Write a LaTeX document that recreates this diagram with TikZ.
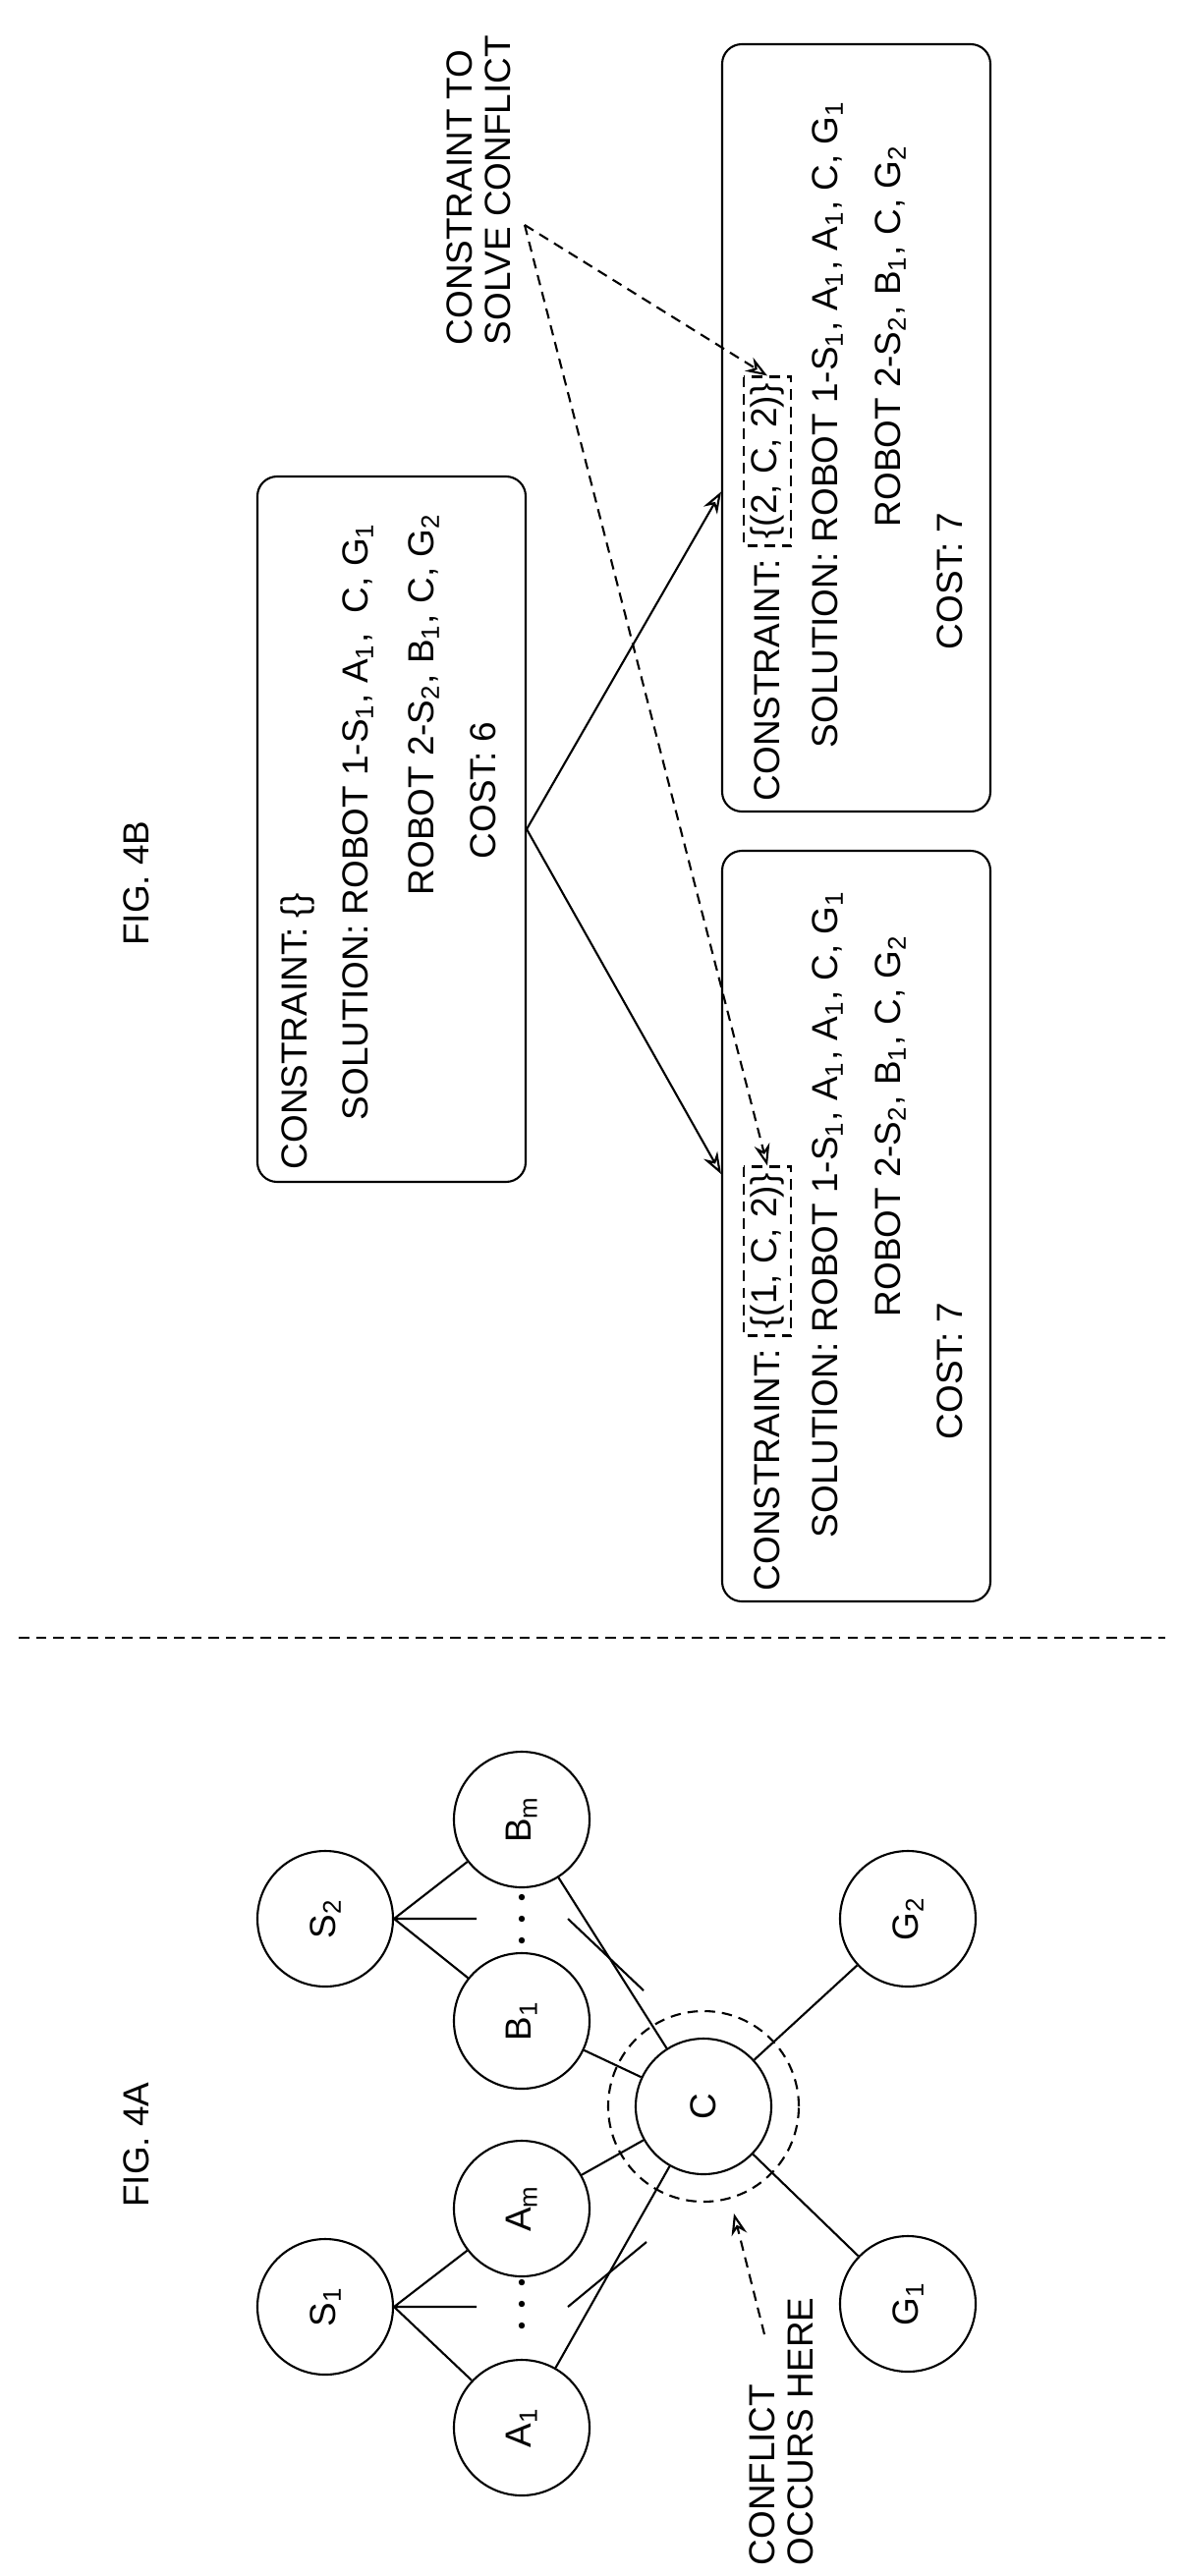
\documentclass[tikz,border=0pt]{standalone}
\usepackage{fontspec}
\setmainfont{Liberation Sans}
\usetikzlibrary{arrows.meta}
\begin{document}
\begin{tikzpicture}[x=0.1mm,y=-0.1mm,
  every node/.style={font=\fontsize{10.5}{11}\selectfont},
  txt/.style={rotate=90,anchor=west,inner sep=0pt},
  lbl/.style={rotate=90,anchor=north west,inner sep=0pt,align=left},
  circ/.style={circle,draw,line width=0.6pt,minimum size=13.8mm,inner sep=0pt},
  box/.style={draw,rounded corners=2mm,line width=0.6pt,minimum width=27.3mm},
  ln/.style={line width=0.6pt},
  dl/.style={line width=0.6pt,dash pattern=on 3pt off 2pt},
  arr/.style={line width=0.6pt,-{Stealth[length=2.2mm,width=1.6mm,open]}},
  darr/.style={dl,-{Stealth[length=2.2mm,width=1.6mm,open]}}]
\useasboundingbox (0,0) rectangle (1201,2622);
% divider
\coordinate (d1) at (19,1667); \coordinate (d2) at (1186,1667);
\draw[dl] (d1) -- (d2);
% FIG labels
\node[rotate=90,inner sep=0pt] (f4a) at (139,2183) {FIG. 4A};
\node[rotate=90,inner sep=0pt] (f4b) at (139,899) {FIG. 4B};
% FIG 4A nodes
\node[circ] (S1) at (331,2348) {\rotatebox{90}{S\textsubscript{1}}};
\node[circ] (S2) at (331,1953) {\rotatebox{90}{S\textsubscript{2}}};
\node[circ] (A1) at (531,2471) {\rotatebox{90}{A\textsubscript{1}}};
\node[circ] (Am) at (531,2248) {\rotatebox{90}{A\textsubscript{m}}};
\node[circ] (B1) at (531,2057) {\rotatebox{90}{B\textsubscript{1}}};
\node[circ] (Bm) at (531,1852) {\rotatebox{90}{B\textsubscript{m}}};
\node[circ] (C) at (716,2144) {\rotatebox{90}{C}};
\node[circ] (G1) at (924,2345) {\rotatebox{90}{G\textsubscript{1}}};
\node[circ] (G2) at (924,1953) {\rotatebox{90}{G\textsubscript{2}}};
\node[circle,draw,dl,minimum size=19.4mm,inner sep=0pt] (Cd) at (C) {};
% dots
\foreach \y in {2323,2345,2367} \fill (531,\y) circle (3.2);
\foreach \y in {1931,1953,1975} \fill (531,\y) circle (3.2);
% stubs
\coordinate (s1a) at (485,2348); \coordinate (s1b) at (578,2348); \coordinate (s1c) at (658,2282);
\coordinate (s2a) at (485,1953); \coordinate (s2b) at (578,1953); \coordinate (s2c) at (655,2026);
\draw[ln] (S1.east) -- (A1) (S1.east) -- (Am) (S1.east) -- (s1a) (s1b) -- (s1c);
\draw[ln] (S2.east) -- (B1) (S2.east) -- (Bm) (S2.east) -- (s2a) (s2b) -- (s2c);
\draw[ln] (A1) -- (C) (Am) -- (C) (B1) -- (C) (Bm) -- (C) (C) -- (G1) (C) -- (G2);
% conflict label
\node[lbl] (conf) at (762,2612) {CONFLICT\\OCCURS HERE};
\coordinate (cfs) at (778,2376); \coordinate (cfe) at (747,2253);
\draw[darr] (cfs) -- (cfe);
% FIG 4B boxes
\node[box,minimum height=71.8mm] (T) at (398.5,844) {};
\node[box,minimum height=78.1mm] (R2) at (871.5,435.5) {};
\node[box,minimum height=76.4mm] (R1) at (871.5,1248) {};
% top box text
\node[txt] (t1) at (303,1191) {CONSTRAINT: \{\}};
\node[txt] (t2) at (364,1141) {SOLUTION: ROBOT 1-S\textsubscript{1}, A\textsubscript{1}, \ C, G\textsubscript{1}};
\node[txt] (t3) at (431,912) {ROBOT 2-S\textsubscript{2}, B\textsubscript{1}, C, G\textsubscript{2}};
\node[txt] (t4) at (492,875) {COST: 6};
% R2 text
\node[txt] (r2a) at (781,816) {CONSTRAINT:};
\node[txt,draw,dl,inner sep=2pt] (k2) at ([yshift=1.2mm]r2a.east) {\{(2, C, 2)\}};
\node[txt] (r2b) at (842,762) {SOLUTION: ROBOT 1-S\textsubscript{1}, A\textsubscript{1}, A\textsubscript{1}, C, G\textsubscript{1}};
\node[txt] (r2c) at (906,537) {ROBOT 2-S\textsubscript{2}, B\textsubscript{1}, C, G\textsubscript{2}};
\node[txt] (r2d) at (967,662) {COST: 7};
% R1 text
\node[txt] (r1a) at (781,1620) {CONSTRAINT:};
\node[txt,draw,dl,inner sep=2pt] (k1) at ([yshift=1.2mm]r1a.east) {\{(1, C, 2)\}};
\node[txt] (r1b) at (842,1566) {SOLUTION: ROBOT 1-S\textsubscript{1}, A\textsubscript{1}, A\textsubscript{1}, C, G\textsubscript{1}};
\node[txt] (r1c) at (906,1341) {ROBOT 2-S\textsubscript{2}, B\textsubscript{1}, C, G\textsubscript{2}};
\node[txt] (r1d) at (967,1466) {COST: 7};
% solid arrows
\draw[arr] (T.east) -- ([yshift=-6.5mm]R2.west);
\draw[arr] (T.east) -- ([yshift=5.3mm]R1.west);
% constraint label
\node[lbl] (ctl) at (454,352) {CONSTRAINT TO\\SOLVE CONFLICT};
\coordinate (cts) at (534,229);
\draw[darr] (cts) -- (k2.east);
\draw[darr] (cts) -- (k1.east);
\end{tikzpicture}
\end{document}
